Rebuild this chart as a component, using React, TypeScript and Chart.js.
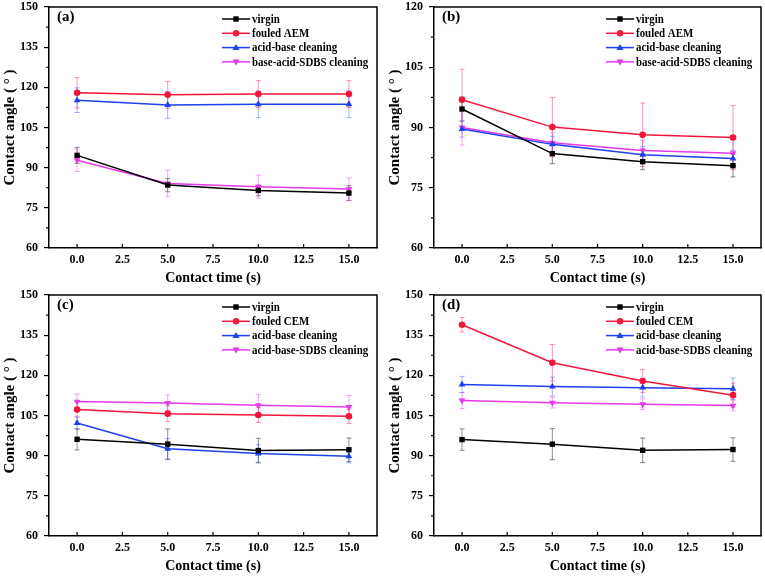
import React, { useEffect, useRef } from "react";
import { Chart, registerables } from "chart.js";

Chart.register(...registerables);

// ---------- data ----------
const contactTimes = [0, 5, 10, 15];
const xTickValues = [0, 2.5, 5, 7.5, 10, 12.5, 15];

const labelsAEM = ["virgin", "fouled AEM", "acid-base cleaning", "base-acid-SDBS cleaning"];
const labelsCEM = ["virgin", "fouled CEM", "acid-base cleaning", "acid-base-SDBS cleaning"];

// panel (a)
const virginA = [94.6, 83.5, 81.5, 80.5];
const virginAErr = [3, 2.5, 2, 2.8];
const fouledA = [118.0, 117.2, 117.5, 117.5];
const fouledAErr = [5.7, 5, 5, 5];
const acidBaseA = [115.2, 113.4, 113.7, 113.7];
const acidBaseAErr = [4.6, 5, 5, 5];
const sdbsA = [92.8, 84.1, 82.9, 82.0];
const sdbsAErr = [4.2, 5, 4.3, 4.2];

// panel (b)
const virginB = [94.6, 83.5, 81.5, 80.5];
const virginBErr = [3, 2.5, 2, 2.8];
const fouledB = [96.9, 90.1, 88.2, 87.5];
const fouledBErr = [7.6, 7.4, 7.9, 8];
const acidBaseB = [89.6, 85.8, 83.2, 82.3];
const acidBaseBErr = [2, 2, 2, 2];
const sdbsB = [90.0, 86.2, 84.3, 83.6];
const sdbsBErr = [4.4, 2.5, 2.5, 3.5];

// panel (c)
const virginC = [96.1, 94.3, 91.9, 92.2];
const virginCErr = [4, 5.7, 4.6, 4.4];
const fouledC = [107.2, 105.7, 105.2, 104.7];
const fouledCErr = [3, 2.9, 2.8, 2.7];
const acidBaseC = [102.2, 92.6, 90.8, 89.8];
const acidBaseCErr = [2.5, 3.8, 3.3, 2.5];
const sdbsC = [110.2, 109.7, 108.8, 108.2];
const sdbsCErr = [2.8, 3, 4, 4.3];

// panel (d)
const virginD = [96.0, 94.3, 92.0, 92.3];
const virginDErr = [4, 5.8, 4.6, 4.4];
const fouledD = [138.9, 124.7, 117.9, 112.6];
const fouledDErr = [2.7, 6.8, 4.3, 4.5];
const acidBaseD = [116.6, 115.8, 115.4, 115.0];
const acidBaseDErr = [3, 3.5, 3.5, 4];
const sdbsD = [110.6, 109.8, 109.2, 108.7];
const sdbsDErr = [3, 2, 2, 2];

// ---------- styles ----------
const FONT = "'Liberation Serif', 'Times New Roman', serif";
const COLORS = ["#000000", "#f2163c", "#1f3ff0", "#e43ae8"];
const ERR_COLORS = [
  "rgba(0,0,0,0.45)",
  "rgba(242,22,90,0.45)",
  "rgba(31,63,240,0.4)",
  "rgba(228,58,232,0.45)",
];
const MARKERS = ["rect", "circle", "triangle", "down"];

type Marker = string;

function drawMarker(ctx: CanvasRenderingContext2D, m: Marker, x: number, y: number, color: string) {
  ctx.save();
  ctx.fillStyle = color;
  ctx.beginPath();
  if (m === "rect") {
    ctx.rect(x - 2.7, y - 2.7, 5.4, 5.4);
  } else if (m === "circle") {
    ctx.arc(x, y, 3.2, 0, Math.PI * 2);
  } else if (m === "triangle") {
    ctx.moveTo(x, y - 3.6);
    ctx.lineTo(x + 3.5, y + 2.4);
    ctx.lineTo(x - 3.5, y + 2.4);
    ctx.closePath();
  } else {
    ctx.moveTo(x, y + 3.6);
    ctx.lineTo(x + 3.5, y - 2.4);
    ctx.lineTo(x - 3.5, y - 2.4);
    ctx.closePath();
  }
  ctx.fill();
  ctx.restore();
}

type PanelProps = {
  left: number;
  top: number;
  width: number;
  height: number;
  tag: string;
  yMax: number;
  rightPad: number;
  labels: string[];
  values: number[][];
  errors: number[][];
};

function Panel(props: PanelProps) {
  const ref = useRef<HTMLCanvasElement>(null);
  useEffect(() => {
    const { tag, yMax, rightPad, labels, values, errors } = props;

    const decorPlugin = {
      id: "decor",
      beforeDatasetsDraw(chart: any) {
        const ctx = chart.ctx as CanvasRenderingContext2D;
        const xs = chart.scales.x;
        const ys = chart.scales.y;
        ctx.save();
        ctx.lineWidth = 1;
        values.forEach((vals, si) => {
          ctx.strokeStyle = ERR_COLORS[si];
          vals.forEach((v, i) => {
            const e = errors[si][i];
            const px = xs.getPixelForValue(contactTimes[i]);
            const y1 = ys.getPixelForValue(v + e);
            const y2 = ys.getPixelForValue(v - e);
            ctx.beginPath();
            ctx.moveTo(px, y1);
            ctx.lineTo(px, y2);
            ctx.moveTo(px - 2.5, y1);
            ctx.lineTo(px + 2.5, y1);
            ctx.moveTo(px - 2.5, y2);
            ctx.lineTo(px + 2.5, y2);
            ctx.stroke();
          });
        });
        ctx.restore();
      },
      afterDraw(chart: any) {
        const ctx = chart.ctx as CanvasRenderingContext2D;
        const a = chart.chartArea;
        const xs = chart.scales.x;
        const ys = chart.scales.y;
        ctx.save();
        ctx.strokeStyle = "#000";
        ctx.lineWidth = 1.5;
        ctx.beginPath();
        ctx.moveTo(a.left, a.top);
        ctx.lineTo(a.right, a.top);
        ctx.lineTo(a.right, a.bottom);
        ctx.stroke();
        // inward x ticks
        ctx.lineWidth = 1.2;
        ctx.beginPath();
        xTickValues.forEach((v) => {
          const px = xs.getPixelForValue(v);
          ctx.moveTo(px, a.bottom);
          ctx.lineTo(px, a.bottom - 4);
        });
        // minor y ticks (outward)
        for (let v = 67.5; v < yMax; v += 15) {
          const py = ys.getPixelForValue(v);
          ctx.moveTo(a.left, py);
          ctx.lineTo(a.left - 3, py);
        }
        ctx.stroke();
        // panel tag
        ctx.fillStyle = "#000";
        ctx.font = `bold 15px ${FONT}`;
        ctx.textBaseline = "middle";
        ctx.textAlign = "left";
        ctx.fillText(tag, a.left + 8, a.top + 10);
        // legend
        const lx = a.right - 155;
        ctx.font = `bold 13px ${FONT}`;
        labels.forEach((lab, i) => {
          const ly = a.top + 12 + i * 14.3;
          ctx.strokeStyle = COLORS[i];
          ctx.lineWidth = 1.5;
          ctx.beginPath();
          ctx.moveTo(lx, ly);
          ctx.lineTo(lx + 28, ly);
          ctx.stroke();
          drawMarker(ctx, MARKERS[i], lx + 14, ly, COLORS[i]);
          ctx.fillStyle = "#000";
          ctx.save();
          ctx.translate(lx + 30, ly + 0.5);
          ctx.scale(0.84, 1);
          ctx.fillText(lab, 0, 0);
          ctx.restore();
        });
        ctx.restore();
      },
    };

    const datasets = values.map((vals, si) => ({
      label: labels[si],
      data: contactTimes.map((t, i) => ({ x: t, y: vals[i] })),
      borderColor: COLORS[si],
      backgroundColor: COLORS[si],
      borderWidth: 1.5,
      pointStyle: MARKERS[si] === "down" ? "triangle" : MARKERS[si],
      rotation: MARKERS[si] === "down" ? 180 : 0,
      pointRadius: MARKERS[si] === "rect" ? 3.8 : MARKERS[si] === "circle" ? 3.3 : 3.9,
      pointBorderWidth: 0,
      tension: 0,
    }));

    const tickFont = { family: FONT, size: 12, weight: "bold" as const };
    const titleFont = { family: FONT, size: 14, weight: "bold" as const };
    const yTitleFont = { family: FONT, size: 15, weight: "bold" as const };

    const chart = new Chart(ref.current as HTMLCanvasElement, {
      type: "line",
      data: { datasets: datasets as any },
      options: {
        responsive: false,
        animation: false,
        devicePixelRatio: 1,
        layout: { padding: { top: 0, right: rightPad, left: 0, bottom: 0 } },
        plugins: { legend: { display: false }, tooltip: { enabled: false } },
        scales: {
          x: {
            type: "linear",
            min: -1.55,
            max: 16.55,
            afterBuildTicks: (s: any) => {
              s.ticks = xTickValues.map((v) => ({ value: v }));
            },
            afterFit: (s: any) => {
              s.height = 42;
            },
            ticks: {
              callback: (v: any) => Number(v).toFixed(1),
              font: tickFont,
              color: "#000",
              padding: 5,
              maxRotation: 0,
              autoSkip: false,
            },
            grid: { display: false, drawTicks: false },
            border: { display: true, color: "#000", width: 1.5 },
            title: {
              display: true,
              text: "Contact time (s)",
              font: titleFont,
              color: "#000",
              padding: { top: 0, bottom: 3 },
            },
          },
          y: {
            type: "linear",
            min: 60,
            max: yMax,
            afterFit: (s: any) => {
              s.width = 49;
              s.paddingTop = 7;
              s.paddingBottom = 0;
            },
            ticks: { stepSize: 15, font: tickFont, color: "#000", padding: 6 },
            grid: {
              display: true,
              drawOnChartArea: false,
              drawTicks: true,
              tickLength: 5,
              color: "#000",
              lineWidth: 1.2,
            },
            border: { display: true, color: "#000", width: 1.5 },
            title: {
              display: true,
              text: "Contact angle ( ° )",
              font: yTitleFont,
              color: "#000",
              padding: { top: 1, bottom: 0 },
            },
          },
        },
      },
      plugins: [decorPlugin as any],
    });
    return () => chart.destroy();
  }, []);
  return (
    <canvas
      ref={ref}
      width={props.width}
      height={props.height}
      style={{ position: "absolute", left: props.left, top: props.top, width: props.width, height: props.height }}
    />
  );
}

export default function App() {
  return (
    <div style={{ position: "fixed", left: 0, top: 0, width: 765, height: 578, background: "#fff", overflow: "hidden" }}>
      <Panel left={0} top={0} width={382} height={290} tag="(a)" yMax={150} rightPad={5}
        labels={labelsAEM}
        values={[virginA, fouledA, acidBaseA, sdbsA]}
        errors={[virginAErr, fouledAErr, acidBaseAErr, sdbsAErr]} />
      <Panel left={385} top={0} width={380} height={290} tag="(b)" yMax={120} rightPad={3}
        labels={labelsAEM}
        values={[virginB, fouledB, acidBaseB, sdbsB]}
        errors={[virginBErr, fouledBErr, acidBaseBErr, sdbsBErr]} />
      <Panel left={0} top={288} width={382} height={290} tag="(c)" yMax={150} rightPad={5}
        labels={labelsCEM}
        values={[virginC, fouledC, acidBaseC, sdbsC]}
        errors={[virginCErr, fouledCErr, acidBaseCErr, sdbsCErr]} />
      <Panel left={385} top={288} width={380} height={290} tag="(d)" yMax={150} rightPad={3}
        labels={labelsCEM}
        values={[virginD, fouledD, acidBaseD, sdbsD]}
        errors={[virginDErr, fouledDErr, acidBaseDErr, sdbsDErr]} />
    </div>
  );
}
